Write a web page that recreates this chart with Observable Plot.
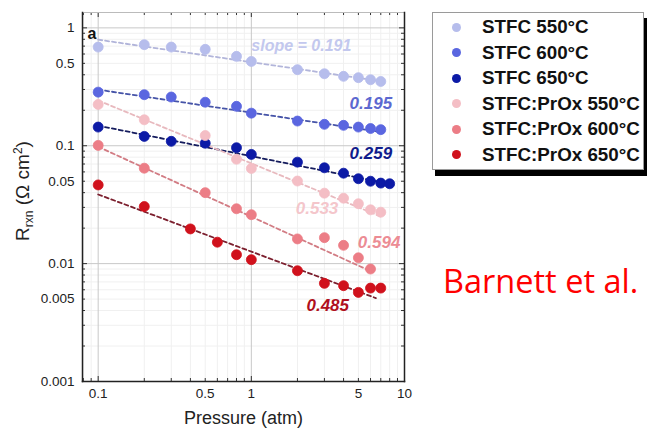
<!DOCTYPE html>
<html><head><meta charset="utf-8">
<script src="https://cdn.jsdelivr.net/npm/d3@7"></script>
<script src="https://cdn.jsdelivr.net/npm/@observablehq/plot@0.6"></script>
<style>
body{margin:0;background:#fff;}
#wrap{position:relative;width:648px;height:435px;overflow:hidden;background:#fff;}
#legend{position:absolute;left:432px;top:12px;width:210px;height:156px;border:1px solid #9a9a9a;box-shadow:3px 6px 0 #000;background:#fff;font-family:"Liberation Sans",Arial,sans-serif;font-weight:bold;font-size:18.8px;color:#111;}
.row{position:absolute;left:0;height:20px;line-height:20px;white-space:nowrap;}
.dot{position:absolute;left:18.5px;top:5.5px;width:9px;height:9px;border-radius:50%;}
.lab{position:absolute;left:49px;top:0;}
</style>
</head><body>
<div id="wrap"></div>
<script>
// ---- data ----
const seriesNames = ["STFC 550°C","STFC 600°C","STFC 650°C","STFC:PrOx 550°C","STFC:PrOx 600°C","STFC:PrOx 650°C"];
const seriesColors = ["#b6bdec","#5a66e0","#0c1aa6","#f4bec5","#ec7d86","#d0111c"];
const lineColors = ["#b2b5da","#4654a8","#151c5e","#e8b9be","#d27c84","#7c1f2e"];
const labelColors = ["#c3c8ee","#5c68d0","#101c8c","#f4c6cb","#ec8c94","#b01020"];

const pressure550 = [0.1,0.2,0.3,0.5,0.8,1,2,3,4,5,6,7];
const stfc550 = [0.687,0.720,0.687,0.657,0.573,0.519,0.442,0.408,0.388,0.378,0.363,0.351];
const pressure600 = [0.1,0.2,0.3,0.5,0.8,1,2,3,4,5,6,7];
const stfc600 = [0.285,0.271,0.259,0.234,0.216,0.189,0.162,0.152,0.149,0.144,0.140,0.137];
const pressure650 = [0.1,0.2,0.3,0.5,0.8,1,2,3,4,5,6,7,8];
const stfc650 = [0.144,0.120,0.109,0.105,0.0962,0.0844,0.0726,0.0650,0.0585,0.0525,0.050,0.0482,0.0476];
const pressureP550 = [0.1,0.2,0.5,0.8,1,2,3,4,5,6,7];
const prox550 = [0.224,0.166,0.122,0.0769,0.0642,0.0502,0.0396,0.0359,0.0322,0.0286,0.0273];
const pressureP600 = [0.1,0.2,0.5,0.8,1,2,3,4,5,6];
const prox600 = [0.1007,0.0645,0.040,0.0292,0.026,0.0162,0.0166,0.0143,0.0112,0.0090];
const pressureP650 = [0.1,0.2,0.4,0.6,0.8,1,2,3,4,5,6,7];
const prox650 = [0.0465,0.0305,0.0197,0.0152,0.0119,0.0108,0.0087,0.0068,0.0065,0.0057,0.0062,0.0062];

// dashed fit lines: start / end pressure and value
const fitStartP = [0.1,0.1,0.1,0.1,0.1,0.1];
const fitEndP   = [7,7.2,8,7,6,6.5];
const fitStartV = [0.794,0.299,0.148,0.242,0.098,0.0386];
const fitEndV   = [0.353,0.130,0.0475,0.0251,0.00863,0.0051];

// slope annotations
const slopeLabels = ["slope = 0.191","0.195","0.259","0.533","0.594","0.485"];
const slopeLabelP = [1.0,8.3,8.3,1.95,9.4,2.29];
const slopeLabelV = [0.71,0.227,0.0865,0.0292,0.015,0.0044];
const slopeLabelAnchor = ["start","end","end","start","end","start"];
const slopeLabelSize = [16,17,17,17,17,17];

const xTickLabels = [0.1,0.5,1,5,10];
const yTickLabels = [0.001,0.005,0.01,0.05,0.1,0.5,1];
const xMajor = [0.1,1];
const xMinor = [0.08,0.09,0.2,0.3,0.4,0.5,0.6,0.7,0.8,0.9,2,3,4,5,6,7,8,9];
const yMajor = [0.01,0.1,1];
const yMinor = [0.002,0.003,0.004,0.005,0.006,0.007,0.008,0.009,0.02,0.03,0.04,0.05,0.06,0.07,0.08,0.09,0.2,0.3,0.4,0.5,0.6,0.7,0.8,0.9];

// ---- build tables ----
const pArrays = [pressure550,pressure600,pressure650,pressureP550,pressureP600,pressureP650];
const vArrays = [stfc550,stfc600,stfc650,prox550,prox600,prox650];
const points = [];
pArrays.forEach((ps,i)=>ps.forEach((p,j)=>points.push({s:i,p,v:vArrays[i][j]})));
const fits = [];
seriesNames.forEach((n,i)=>{fits.push({s:i,p:fitStartP[i],v:fitStartV[i]});fits.push({s:i,p:fitEndP[i],v:fitEndV[i]});});
const labels = slopeLabels.map((t,i)=>({s:i,t,p:slopeLabelP[i],v:slopeLabelV[i],a:slopeLabelAnchor[i],fs:slopeLabelSize[i]}));

const H = 435, mT = 12, mB = 54, W = 648, mL = 82, mR = 244;
const ph = H-mT-mB, pw = W-mL-mR;

const marks = [
  Plot.ruleX(xMinor,{stroke:"#f0f0f0",strokeWidth:1}),
  Plot.ruleY(yMinor,{stroke:"#f0f0f0",strokeWidth:1}),
  Plot.ruleX(xMajor,{stroke:"#c8c8c8",strokeWidth:1}),
  Plot.ruleY(yMajor,{stroke:"#c8c8c8",strokeWidth:1}),
  // ticks (inward)
  Plot.ruleX(xMinor,{insetTop:ph-3,stroke:"#333"}),
  Plot.ruleX(xMajor,{insetTop:ph-5,stroke:"#333"}),
  Plot.ruleX(xMinor,{insetBottom:ph-3,stroke:"#333"}),
  Plot.ruleX(xMajor,{insetBottom:ph-5,stroke:"#333"}),
  Plot.ruleY(yMinor,{insetRight:pw-3,stroke:"#333"}),
  Plot.ruleY(yMajor,{insetRight:pw-5,stroke:"#333"}),
  Plot.ruleY(yMinor,{insetLeft:pw-3,stroke:"#333"}),
  Plot.ruleY(yMajor,{insetLeft:pw-5,stroke:"#333"}),
  // frame
  Plot.frame({anchor:"top",stroke:"#bbb"}),
  Plot.frame({anchor:"left",stroke:"#222",strokeWidth:1.5}),
  Plot.frame({anchor:"right",stroke:"#222",strokeWidth:1.5}),
  Plot.frame({anchor:"bottom",stroke:"#222",strokeWidth:1.5}),
  // tick labels
  Plot.text(xTickLabels,{x:d=>d,frameAnchor:"bottom",dy:16,text:d=>String(d),fontSize:13.5,fill:"#222"}),
  Plot.text(yTickLabels,{y:d=>d,frameAnchor:"left",dx:-8,textAnchor:"end",text:d=>String(d),fontSize:13.5,fill:"#222"}),
  Plot.text(["Pressure (atm)"],{frameAnchor:"bottom",dy:42,fontSize:18,fill:"#222"}),
  Plot.text(["a"],{frameAnchor:"top-left",dx:5,dy:15,textAnchor:"start",fontWeight:"bold",fontSize:16,fill:"#111"}),
  // fit lines
  Plot.line(fits,{x:"p",y:"v",z:"s",stroke:d=>lineColors[d.s],strokeWidth:1.8,strokeDasharray:"4,3"}),
  // data points
  Plot.dot(points,{x:"p",y:"v",r:5,fill:d=>seriesColors[d.s],stroke:d=>seriesColors[d.s],strokeWidth:0.8}),
  // slope labels
  Plot.text(labels,{x:"p",y:"v",text:"t",textAnchor:"start",fill:d=>labelColors[d.s],fontSize:d=>d.fs,fontWeight:"bold",fontStyle:"italic"})
];

const svg = Plot.plot({
  width:W,height:H,marginLeft:mL,marginRight:mR,marginTop:mT,marginBottom:mB,
  x:{type:"log",domain:[0.079,10],axis:null},
  y:{type:"log",domain:[0.001,1.35],axis:null},
  style:{fontFamily:"'Liberation Sans', Arial, sans-serif",background:"#fff",overflow:"visible"},
  marks
});

// per-label text anchor
d3.select(svg).selectAll("text").filter(function(){return slopeLabels.includes(this.textContent);})
  .attr("text-anchor",function(){const i=slopeLabels.indexOf(this.textContent);return slopeLabelAnchor[i];});

// y-axis label with subscript / superscript
const yl = d3.select(svg).append("text")
  .attr("transform","translate(29,191) rotate(-90)")
  .attr("text-anchor","middle")
  .attr("font-family","'Liberation Sans', Arial, sans-serif")
  .attr("font-size",19).attr("fill","#222");
yl.append("tspan").text("R");
yl.append("tspan").attr("font-size",12).attr("dy",4).text("rxn");
yl.append("tspan").attr("dy",-4).text(" (Ω cm");
yl.append("tspan").attr("font-size",12).attr("dy",-7).text("2");
yl.append("tspan").attr("dy",7).text(")");

d3.select(svg).append("text").attr("x",443).attr("y",293)
  .attr("text-anchor","start")
  .attr("font-family","'Open Sans', sans-serif").attr("font-size",32.5).attr("fill","#ff0000")
  .text("Barnett et al.");

const wrap = document.getElementById("wrap");
wrap.appendChild(svg);

// legend
const leg = document.createElement("div");
leg.id = "legend";
const rowCenters = [14,39.5,65,90.5,116,141.5];
seriesNames.forEach((n,i)=>{
  const r = document.createElement("div");
  r.className = "row";
  r.style.top = (rowCenters[i]-10)+"px";
  r.innerHTML = `<span class="dot" style="background:${seriesColors[i]}"></span><span class="lab">${n}</span>`;
  leg.appendChild(r);
});
wrap.appendChild(leg);
</script>
</body></html>
